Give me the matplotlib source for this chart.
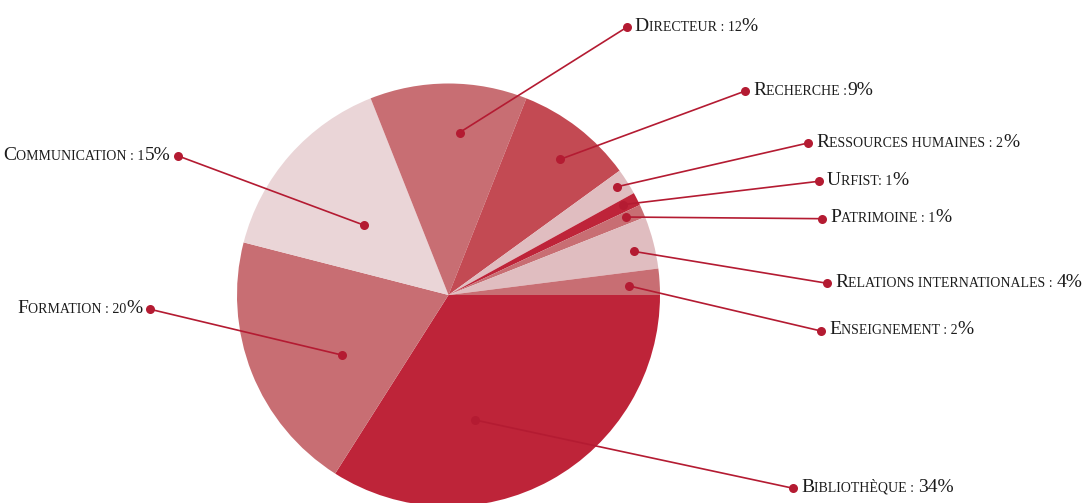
import matplotlib
matplotlib.use("Agg")
import matplotlib.pyplot as plt
import numpy as np
from matplotlib.offsetbox import TextArea, HPacker, AnnotationBbox

# ---- data ----
categories = ["Bibliothèque", "Formation", "Communication", "Directeur", "Recherche",
              "Ressources humaines", "Urfist", "Patrimoine",
              "Relations internationales", "Enseignement"]
values = [34, 20, 15, 12, 9, 2, 1, 1, 4, 2]
label_texts = ["Bibliothèque : 34%", "Formation : 20%", "Communication : 15%",
               "Directeur : 12%", "Recherche :9%", "Ressources humaines : 2%",
               "Urfist: 1%", "Patrimoine : 1%", "Relations internationales : 4%",
               "Enseignement : 2%"]

# ---- style / layout ----
colors = ["#BE2439", "#C86E73", "#EAD5D7", "#C86E73", "#C34A53",
          "#E0BDC0", "#BE2439", "#C86E73", "#E0BDC0", "#C86E73"]
# anchor placement inside each wedge: position along the wedge's arc (0..1) and radius fraction
anchor_along = [0.636, 0.39, 0.465, 0.59, 0.55, 0.45, 0.4, 0.4, 0.58, 0.6]
anchor_frac = [0.605, 0.577, 0.52, 0.77, 0.83, 0.945, 0.93, 0.915, 0.90, 0.855]
# label dot positions in image pixels (x, y from top) and side
label_pos = [(793.3, 488.3, "right"), (150.3, 309.3, "left"), (178.3, 156.0, "left"),
             (626.7, 27.3, "right"), (745.3, 91.0, "right"), (808.0, 143.0, "right"),
             (818.7, 181.3, "right"), (822.3, 218.7, "right"), (827.3, 283.3, "right"),
             (821.0, 331.0, "right")]

W, H = 1087, 503
CX, CY, R = 448.5, H - 295.0, 211.5
RED = "#B41B32"
TXT = "#1c1c1c"
BIG, SMALL = 14.0, 10.0
FONT = "Liberation Serif"

fig = plt.figure(figsize=(W / 100, H / 100), dpi=100)
ax = fig.add_axes([0, 0, 1, 1])

wedges, _ = ax.pie(values, colors=colors, startangle=0, counterclock=False,
                   center=(CX, CY), radius=R, wedgeprops=dict(linewidth=0))
ax.set_xlim(0, W)
ax.set_ylim(0, H)
ax.set_aspect("equal")
ax.axis("off")


def segments(text):
    segs = []
    for i, ch in enumerate(text):
        if i == 0 or ch == "%" or ch in "3456789":
            s = BIG
        else:
            s = SMALL
        c = ch.upper()
        if segs and segs[-1][1] == s:
            segs[-1][0] += c
        else:
            segs.append([c, s])
    return segs


for w, along, frac, txt, (lx, ly, side) in zip(wedges, anchor_along, anchor_frac,
                                                label_texts, label_pos):
    # clockwise pie: the wedge starts at theta2 and runs toward theta1
    ang = np.deg2rad(w.theta2 - along * (w.theta2 - w.theta1))
    ax_x = CX + frac * R * np.cos(ang)
    ax_y = CY + frac * R * np.sin(ang)
    ly_d = H - ly
    ax.plot([ax_x, lx], [ax_y, ly_d], color=RED, lw=1.2, solid_capstyle="round", zorder=3)
    ax.plot([ax_x, lx], [ax_y, ly_d], "o", color=RED, ms=6.5, mew=0, zorder=4)

    children = [TextArea(s, textprops=dict(fontsize=sz, family=FONT, color=TXT))
                for s, sz in segments(txt)]
    box = HPacker(children=children, pad=0, sep=0, align="baseline")
    if side == "right":
        xy = (lx + 8, ly_d + 1)
        align = (0, 0.5)
    else:
        xy = (lx - 8, ly_d + 1)
        align = (1, 0.5)
    ab = AnnotationBbox(box, xy, xycoords="data", box_alignment=align,
                        frameon=False, pad=0, zorder=5, annotation_clip=False)
    ax.add_artist(ab)

fig.savefig("out.png", dpi=100, facecolor="white")
